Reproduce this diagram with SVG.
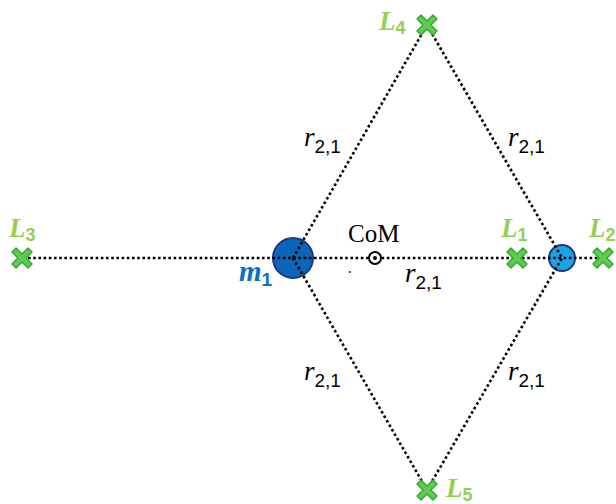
<svg xmlns="http://www.w3.org/2000/svg" width="616" height="504" viewBox="0 0 616 504">
<defs>
<style>
.dot{stroke:#000;stroke-width:2.6;stroke-dasharray:2.6 2.6;fill:none}
.lbl{font-family:"Liberation Serif",serif;font-style:italic;font-weight:bold;fill:#92d050;font-size:27px}
.sub{font-family:"Liberation Sans",sans-serif;font-style:normal;font-weight:bold;font-size:18px}
.r{font-family:"Liberation Serif",serif;font-style:italic;font-size:27px;fill:#000}
.rs{font-family:"Liberation Sans",sans-serif;font-style:normal;font-size:19px}
</style>
<g id="xmark">
<path d="M-6,-10 L0,-4 L6,-10 L10,-6 L4,0 L10,6 L6,10 L0,4 L-6,10 L-10,6 L-4,0 L-10,-6 Z" fill="#5ccd4f" stroke="#3aa834" stroke-width="1.5" stroke-linejoin="round"/>
</g>
</defs>
<rect width="616" height="504" fill="#fff"/>
<g id="m1"><circle cx="293" cy="258" r="20" fill="#0b66b9" stroke="#1c3a7c" stroke-width="2"/></g>
<g id="m2"><circle cx="562" cy="258" r="13" fill="#1ca3e6" stroke="#1c3a7c" stroke-width="2"/></g>
<g id="connectors">
<line class="dot" x1="28" y1="258" x2="598" y2="258"/>
<line class="dot" x1="293" y1="258" x2="427" y2="25"/>
<line class="dot" x1="427" y1="25" x2="562" y2="258"/>
<line class="dot" x1="293" y1="258" x2="427" y2="490"/>
<line class="dot" x1="427" y1="490" x2="562" y2="258"/>
</g>
<g id="com">
<circle cx="375" cy="258" r="6" fill="#fff" stroke="#000" stroke-width="2"/>
<circle cx="375" cy="258" r="2" fill="#000"/>
<text x="348" y="242" font-family="Liberation Serif,serif" font-size="25" fill="#000">CoM</text>
<rect x="349" y="271" width="2" height="2" fill="#555"/>
</g>
<g id="L1"><use href="#xmark" x="517" y="258"/><text class="lbl" x="501" y="237">L<tspan class="sub" dy="4">1</tspan></text></g>
<g id="L2"><use href="#xmark" x="603" y="258"/><text class="lbl" x="589" y="237">L<tspan class="sub" dy="4">2</tspan></text></g>
<g id="L3"><use href="#xmark" x="22" y="258"/><text class="lbl" x="9" y="237">L<tspan class="sub" dy="4">3</tspan></text></g>
<g id="L4"><use href="#xmark" x="427" y="25"/><text class="lbl" x="379" y="30">L<tspan class="sub" dy="4">4</tspan></text></g>
<g id="L5"><use href="#xmark" x="427" y="490"/><text class="lbl" x="446" y="497">L<tspan class="sub" dy="4">5</tspan></text></g>
<g id="m1label"><text x="239" y="281" font-family="Liberation Serif,serif" font-style="italic" font-weight="bold" font-size="29" fill="#0b6fc4">m<tspan font-family="Liberation Sans,sans-serif" font-style="normal" font-size="19" dy="5">1</tspan></text></g>
<g id="rlabels">
<text class="r" x="304" y="146">r<tspan class="rs" dy="7">2,1</tspan></text>
<text class="r" x="508" y="146">r<tspan class="rs" dy="7">2,1</tspan></text>
<text class="r" x="405" y="282">r<tspan class="rs" dy="7">2,1</tspan></text>
<text class="r" x="304" y="380">r<tspan class="rs" dy="7">2,1</tspan></text>
<text class="r" x="508" y="380">r<tspan class="rs" dy="7">2,1</tspan></text>
</g>
</svg>
